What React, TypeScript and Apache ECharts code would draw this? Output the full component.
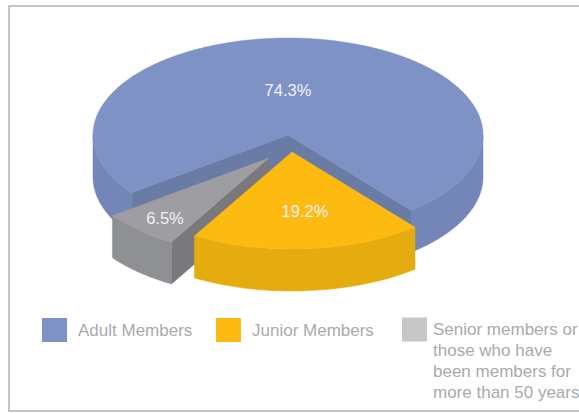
import React, { useEffect, useRef } from "react";
import * as echarts from "echarts";

const categories = ["Adult Members", "Junior Members", "Senior members or\nthose who have\nbeen members for\nmore than 50 years"];
const shares = [74.3, 19.2, 6.5];

const W = 579, H = 413;
const CX = 288, CY = 135, RX = 195, RY = 97, DEPTH = 42;
const START_ANGLE = 50.9;
const CLOCKWISE_ORDER = [1, 2, 0];
const OFFSETS = [[0, 0], [4, 17], [-19, 23]];
const LABEL_POS = [[288, 90], [305, 211], [165, 218]];
const COLORS = [
  { top: "#7f92c5", outer: "#7486b8", cut: "#6a7ba6" },
  { top: "#fdbb12", outer: "#e5ac10", cut: "#e5ac10" },
  { top: "#9e9da1", outer: "#8f9093", cut: "#79787c" },
];
const LEGEND_COLORS = ["#7f92c5", "#fdbb12", "#c6c7c9"];

const rad = (d: number) => (d * Math.PI) / 180;

function sliceRange(idx: number): [number, number] {
  let a = START_ANGLE;
  for (const i of CLOCKWISE_ORDER) {
    const sweep = (shares[i] / 100) * 360;
    if (i === idx) return [a, a + sweep];
    a += sweep;
  }
  return [a, a];
}

function makeRenderItem(idx: number) {
  return (_p: any, api: any) => {
    const [a, b] = sliceRange(idx);
    const [ox, oy] = OFFSETS[idx];
    const c = COLORS[idx];
    const pt = (t: number, d = 0): number[] => [
      CX + ox + RX * Math.cos(rad(t)),
      CY + oy + d + RY * Math.sin(rad(t)),
    ];
    const centre = (d = 0): number[] => [CX + ox, CY + oy + d];
    const arc = (s: number, e: number, d = 0) => {
      const out: number[][] = [];
      const n = Math.max(2, Math.ceil((e - s) / 1.5));
      for (let i = 0; i <= n; i++) out.push(pt(s + ((e - s) * i) / n, d));
      return out;
    };
    const children: any[] = [];
    const poly = (points: number[][], fill: string) =>
      children.push({ type: "polygon", shape: { points }, style: { fill, stroke: fill, lineWidth: 0.5 } });

    if (Math.sin(rad(a - 90)) > 0) poly([centre(), pt(a), pt(a, DEPTH), centre(DEPTH)], c.cut);
    if (Math.sin(rad(b + 90)) > 0) poly([centre(), pt(b), pt(b, DEPTH), centre(DEPTH)], c.cut);

    for (const [s0, e0] of [[0, 180], [360, 540]]) {
      const s = Math.max(a, s0), e = Math.min(b, e0);
      if (e > s) poly([...arc(s, e), ...arc(s, e, DEPTH).reverse()], c.outer);
    }
    poly([centre(), ...arc(a, b)], c.top);

    children.push({
      type: "text",
      style: {
        text: api.value(0) + "%",
        x: LABEL_POS[idx][0],
        y: LABEL_POS[idx][1],
        align: "center",
        verticalAlign: "middle",
        fill: "#f1f2f6",
        fontFamily: "Liberation Sans",
        fontSize: 16.5,
      },
    });
    return { type: "group", children };
  };
}

const richLabel = (name: string) => {
  const lines = name.split("\n");
  const blanks = lines.slice(1).map(() => "{t| }");
  return [...blanks, ...lines.map((l) => `{t|${l}}`)].join("\n");
};

export default function App() {
  const ref = useRef<HTMLDivElement>(null);
  useEffect(() => {
    document.body.style.margin = "0";
    const chart = echarts.init(ref.current!, undefined, { renderer: "svg" });
    const legendText = (gap: number) => ({
      rich: { t: { color: "#a9aaac", fontFamily: "Liberation Sans", fontSize: 17, lineHeight: 21, height: 21, padding: [0, 0, 0, gap] } },
    });
    const base = { orient: "horizontal", icon: "rect", itemWidth: 25, itemHeight: 24, itemGap: 0, padding: 0, selectedMode: false, formatter: richLabel };
    chart.setOption({
      animation: false,
      backgroundColor: "#ffffff",
      graphic: [{
        type: "rect",
        silent: true,
        shape: { x: 9, y: 6, width: 580, height: 405 },
        style: { fill: "none", stroke: "#b3b3b3", lineWidth: 1.5 },
      }],
      legend: [
        { ...base, left: 42, top: 318, textStyle: legendText(6), data: [{ name: categories[0], itemStyle: { color: LEGEND_COLORS[0] } }] },
        { ...base, left: 216, top: 318, textStyle: legendText(6), data: [{ name: categories[1], itemStyle: { color: LEGEND_COLORS[1] } }] },
        { ...base, left: 402, top: 256, textStyle: legendText(1), data: [{ name: categories[2], itemStyle: { color: LEGEND_COLORS[2] } }] },
      ],
      series: categories.map((name, i) => ({
        type: "custom",
        name,
        coordinateSystem: "none",
        z: [1, 3, 2][i],
        silent: true,
        itemStyle: { color: COLORS[i].top },
        data: [[shares[i]]],
        renderItem: makeRenderItem(i),
      })),
    });
    return () => chart.dispose();
  }, []);
  return <div ref={ref} style={{ width: W, height: H }} />;
}
